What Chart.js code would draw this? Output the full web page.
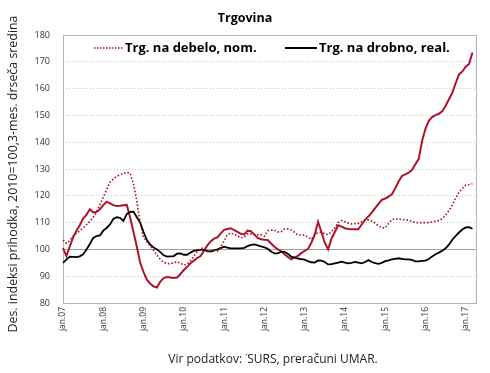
<!DOCTYPE html>
<html>
<head>
<meta charset="utf-8">
<script src="https://cdn.jsdelivr.net/npm/chart.js@4/dist/chart.umd.min.js"></script>
<style>
  html, body { margin: 0; padding: 0; background: #fff; }
</style>
</head>
<body>
<canvas id="chart" width="490" height="373"></canvas>
<script>
// Month names (Slovenian) and years shown on the axis
const monthNames = ["jan", "feb", "mar", "apr", "maj", "jun", "jul", "avg", "sep", "okt", "nov", "dec"];
const years = ["07", "08", "09", "10", "11", "12", "13", "14", "15", "16", "17"];

// Monthly categories jan.07 .. apr.17
const labels = [];
years.forEach((y) => monthNames.forEach((m) => labels.push(m + "." + y)));
labels.length = 124;

// Trg. na debelo, nom. (dotted)
const debeloNom = [
  103.5, 102.3, 103.3, 105, 106, 107, 108, 109.2, 110.5, 112, 114, 116.7,
  119.5, 122.3, 125, 126.3, 127.3, 127.8, 128.3, 128.8, 128.4, 124.5, 118, 109.5,
  104.5, 102.8, 101.3, 99.6, 97.8, 96.3, 95.2, 94.7, 94.7, 95, 95.4, 94.8,
  94.2, 94.5, 95.8, 97.5, 99.2, 100.4, 100.4, 99.2, 99.5, 99.8, 99.3, 101,
  103.2, 105.6, 106.1, 105.6, 105, 104.3, 104.6, 105.8, 105.8, 105.4, 105.5, 105.5,
  104.9, 107, 107.2, 107.2, 106.5, 106.6, 107.6, 107.7, 107.2, 106.4, 105.4, 105.4,
  105.3, 104.5, 103.8, 105.5, 106.3, 106.4, 105.8, 105.5, 106.7, 108, 110, 110.8,
  110.3, 109.8, 109.5, 109.6, 109.7, 110.3, 111, 111, 110.6, 109.8, 108.8, 108.1,
  108, 109.7, 111, 111.5, 111.3, 111.2, 111, 110.9, 110.4, 110, 110, 110,
  110, 110, 110.2, 110.5, 110.8, 111.5, 112.8, 114.5, 116.5, 119.2, 121.3, 122.8,
  124, 124.2, 124.5
];

// Trg. na debelo, real. (solid red, not in legend)
const debeloReal = [
  100.5, 97.5, 101, 104.5, 107, 109, 111.5, 113, 115, 113.8, 114, 115,
  116.5, 117.8, 117.2, 116.5, 116.2, 116.3, 116.5, 116.6, 112, 106.5, 101, 95,
  91.5, 88.7, 87.2, 86.2, 85.8, 88, 89.3, 89.7, 89.5, 89.3, 89.5, 90.8,
  92.3, 93.5, 94.8, 95.8, 96.8, 97.5, 99.5, 101.5, 103, 104, 104.5, 106,
  107.3, 107.6, 107.9, 107.2, 106.5, 105.8, 105.6, 107, 106.8, 105.6, 104.3, 103.8,
  103.6, 103.5, 102.2, 101, 100, 99.4, 98.2, 97.2, 96.3, 97, 97.6, 98.6,
  99.4, 100.2, 102.5, 105.5, 110.3, 106.5, 102.5, 100, 104, 106.5, 109, 108.5,
  107.9, 107.6, 107.5, 107.5, 107.5, 109.3, 111, 112.3, 113.7, 115.4, 117, 118.5,
  119, 119.7, 120.6, 122.8, 125.3, 127.4, 128, 128.6, 129.7, 131.8, 133.8, 140.5,
  145, 148, 149.4, 150.1, 150.6, 151.5, 153.5, 156, 158.5, 162, 165.3, 166.4,
  168.2, 169.2, 173.5
];

// Trg. na drobno, real. (solid black)
const drobnoReal = [
  95, 96.2, 97.3, 97.2, 97.1, 97.4, 98.2, 100, 102, 104.3, 105, 105.2,
  107, 108, 109.3, 111.4, 112, 111.8, 110.6, 113.2, 114, 114.1, 112, 110,
  106.5, 103.5, 101.8, 100.7, 100, 99, 97.8, 97.3, 97.4, 97.5, 98.4, 98.5,
  98, 98, 98.8, 99.5, 99.7, 99.8, 99.8, 99.4, 99.2, 99.6, 100, 100.5,
  101, 100.7, 100.4, 100.4, 100.4, 100.4, 100.6, 101.2, 101.7, 101.9, 101.5, 101.1,
  100.8, 100.2, 99.2, 98.5, 98.5, 99.1, 99.1, 98.4, 97.3, 96.9, 96.6, 96.4,
  96.2, 95.6, 95.2, 95.1, 95.9, 95.8, 95.3, 94.4, 94.5, 94.8, 95.1, 95.4,
  95.1, 94.8, 95, 95.3, 95.1, 94.8, 95.3, 96, 95.3, 94.9, 94.6, 95,
  95.6, 95.9, 96.3, 96.5, 96.7, 96.5, 96.3, 96.3, 96.1, 95.5, 95.5, 95.7,
  95.8, 96.4, 97.4, 98.2, 98.8, 99.5, 100.4, 101.8, 103.6, 105, 106.3, 107.4,
  108.2, 108.3, 107.7
];

const yTicks = [80, 90, 100, 110, 120, 130, 140, 150, 160, 170, 180];

const red = "#ab142b";
const font = "'Open Sans', 'DejaVu Sans', sans-serif";

// Title, legend, axis title, source, frame and the 100 line
const decorations = {
  id: "decorations",
  beforeDraw(chart) {
    const ctx = chart.ctx;
    ctx.save();
    ctx.fillStyle = "#fff";
    ctx.fillRect(0, 0, chart.width, chart.height);
    ctx.restore();
  },
  beforeDatasetsDraw(chart) {
    const { ctx, chartArea } = chart;
    const y100 = chart.scales.y.getPixelForValue(100);
    ctx.save();
    ctx.strokeStyle = "#a0a0a0";
    ctx.lineWidth = 1.2;
    ctx.beginPath();
    ctx.moveTo(chartArea.left, Math.round(y100) + 0.5);
    ctx.lineTo(chartArea.right, Math.round(y100) + 0.5);
    ctx.stroke();
    ctx.strokeStyle = "#b4b4b4";
    ctx.lineWidth = 1;
    ctx.strokeRect(
      Math.round(chartArea.left) + 0.5,
      Math.round(chartArea.top) + 0.5,
      Math.round(chartArea.right - chartArea.left),
      Math.round(chartArea.bottom - chartArea.top)
    );
    ctx.restore();
  },
  afterDraw(chart) {
    const { ctx } = chart;
    ctx.save();
    ctx.fillStyle = "#000";
    ctx.textBaseline = "middle";

    // title
    ctx.font = "bold 12.5px " + font;
    ctx.textAlign = "center";
    ctx.fillText("Trgovina", 245, 18);

    // legend
    const ly = 48;
    ctx.textAlign = "left";
    ctx.strokeStyle = red;
    ctx.lineWidth = 1.5;
    ctx.setLineDash([1.5, 1.5]);
    ctx.beginPath();
    ctx.moveTo(94, ly);
    ctx.lineTo(123, ly);
    ctx.stroke();
    ctx.setLineDash([]);
    ctx.strokeStyle = "#000";
    ctx.lineWidth = 2;
    ctx.beginPath();
    ctx.moveTo(285, ly);
    ctx.lineTo(317, ly);
    ctx.stroke();
    ctx.font = "bold 13px " + font;
    ctx.fillText("Trg. na debelo, nom.", 125, ly);
    ctx.fillText("Trg. na drobno, real.", 319, ly);

    // y axis title
    ctx.save();
    ctx.translate(13, 174);
    ctx.rotate(-Math.PI / 2);
    ctx.textAlign = "center";
    ctx.font = "12.4px " + font;
    ctx.fillStyle = "#222";
    ctx.fillText("Des. indeksi prihodka, 2010=100,3-mes. drseča sredina", 0, 0);
    ctx.restore();

    // source
    ctx.textAlign = "center";
    ctx.font = "12px " + font;
    ctx.fillStyle = "#222";
    ctx.fillText("Vir podatkov: \u02d9SURS, preračuni UMAR.", 273, 360);
    ctx.restore();
  }
};

new Chart(document.getElementById("chart"), {
  type: "line",
  data: {
    labels: labels,
    datasets: [
      {
        label: "Trg. na debelo, nom.",
        data: debeloNom,
        borderColor: red,
        borderWidth: 1.6,
        borderDash: [1.6, 1.9],
        pointRadius: 0,
        tension: 0,
        fill: false
      },
      {
        label: "Trg. na drobno, real.",
        data: drobnoReal,
        borderColor: "#000",
        borderWidth: 1.8,
        pointRadius: 0,
        tension: 0,
        fill: false
      },
      {
        label: "Trg. na debelo, real.",
        data: debeloReal,
        borderColor: red,
        borderWidth: 2,
        pointRadius: 0,
        tension: 0,
        fill: false
      }
    ]
  },
  options: {
    responsive: false,
    animation: false,
    layout: { padding: { top: 35, right: 8, left: 0, bottom: 0 } },
    plugins: {
      legend: { display: false },
      tooltip: { enabled: false },
      title: { display: false }
    },
    scales: {
      x: {
        type: "category",
        offset: false,
        grid: { display: false, drawTicks: false },
        border: { display: false },
        afterFit: (scale) => { scale.height = 70; },
        ticks: {
          autoSkip: false,
          maxRotation: 90,
          minRotation: 90,
          padding: 4,
          color: "#333",
          font: { size: 8.5, family: font },
          callback: (value, index) => (index % 12 === 0 ? labels[index] : "")
        }
      },
      y: {
        min: 80,
        max: 180,
        afterFit: (scale) => { scale.width = 63; },
        afterBuildTicks: (scale) => { scale.ticks = yTicks.map((v) => ({ value: v })); },
        grid: { color: "#c4c4c4", lineWidth: 1, drawTicks: false },
        border: { display: false, dash: [1, 2] },
        ticks: {
          padding: 13,
          color: "#333",
          font: { size: 9, family: font }
        }
      }
    }
  },
  plugins: [decorations]
});
</script>
</body>
</html>
